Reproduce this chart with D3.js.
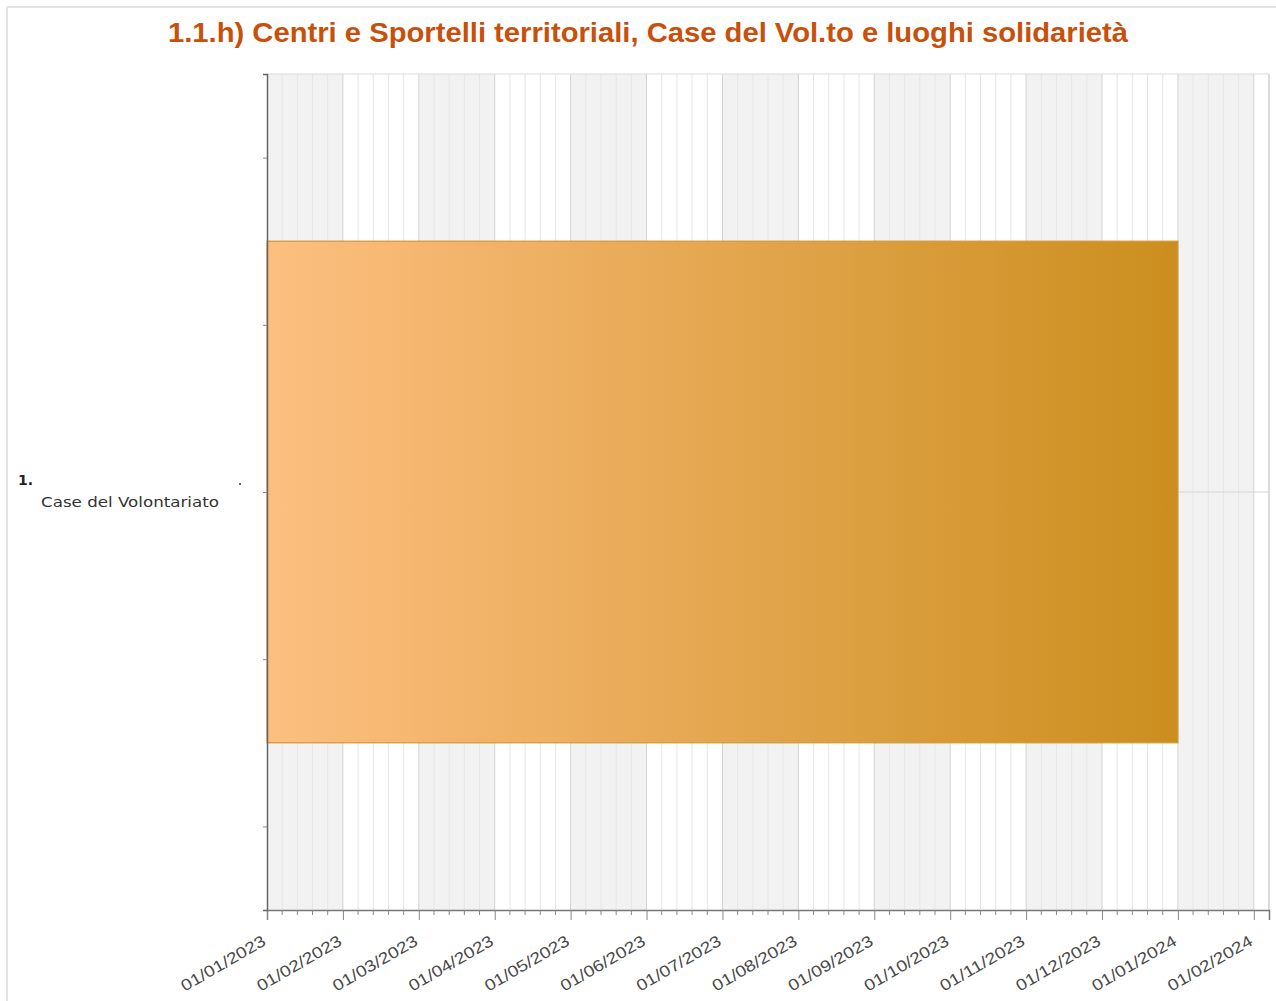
<!DOCTYPE html>
<html><head><meta charset="utf-8">
<script src="https://cdn.jsdelivr.net/npm/d3@7"></script>
<style>body{margin:0;background:#fff}svg{display:block}</style>
</head><body>
<svg id="chart" width="1276" height="1001"></svg>
<script>
const title = "1.1.h) Centri e Sportelli territoriali, Case del Vol.to e luoghi solidarietà";
const monthLabels = ["01/01/2023","01/02/2023","01/03/2023","01/04/2023","01/05/2023","01/06/2023","01/07/2023","01/08/2023","01/09/2023","01/10/2023","01/11/2023","01/12/2023","01/01/2024","01/02/2024"];
const taskNumbers = ["1."];
const taskNames = ["Case del Volontariato"];
const taskStarts = ["01/01/2023"];
const taskEnds = ["01/01/2024"];
const taskRows = [0];
const yTicks = [-1, -0.5, 0, 0.5, 1];

const svg = d3.select("#chart");
const L = 267, R = 1269, T = 74, B = 910;

// outer frame
svg.append("path").attr("d", "M7,1001 V7 H1276").attr("fill","none").attr("stroke","#e4e4e4").attr("stroke-width",2);

svg.append("text").attr("x", 648).attr("y", 42).attr("text-anchor","middle")
  .attr("font-family","'Liberation Sans', Arial, sans-serif").attr("font-weight","bold")
  .attr("font-size", 28).attr("fill","#c8500a")
  .attr("textLength", 960).attr("lengthAdjust","spacingAndGlyphs").text(title);

const x = d3.scaleLinear().domain([0, 13.2]).range([L, R]);
const y = d3.scaleLinear().domain([1.25, -1.25]).range([T, B]);

// alternating month bands
const g = svg.append("g");
d3.range(0, 14, 2).forEach(i => {
  g.append("rect").attr("x", x(i)).attr("y", T).attr("width", x(Math.min(i+1, 13.2)) - x(i))
    .attr("height", B - T).attr("fill", "#f2f2f2");
});
// minor gridlines
const minor = d3.range(0, 66).map(k => k/5).filter(v => v % 1 !== 0);
g.selectAll(".mg").data(minor).join("line").attr("x1", d=>x(d)).attr("x2", d=>x(d))
  .attr("y1", T).attr("y2", B).attr("stroke","#e6e6e6").attr("stroke-width",1);
g.selectAll(".Mg").data(d3.range(1, 14)).join("line").attr("x1", d=>x(d)).attr("x2", d=>x(d))
  .attr("y1", T).attr("y2", B).attr("stroke","#d2d2d2").attr("stroke-width",1);
// top & right border
svg.append("line").attr("x1", L).attr("x2", R).attr("y1", T).attr("y2", T).attr("stroke","#dadada");
svg.append("line").attr("x1", R).attr("x2", R).attr("y1", T).attr("y2", B).attr("stroke","#cfcfcf").attr("stroke-width",1.5);
// horizontal row gridline
svg.selectAll(".hg").data(taskRows).join("line").attr("x1", L).attr("x2", R)
  .attr("y1", d=>y(d)).attr("y2", d=>y(d)).attr("stroke","#d6d6d6");

// bars
const defs = svg.append("defs");
const grad = defs.append("linearGradient").attr("id","barGrad").attr("x1","0%").attr("x2","100%").attr("y1","0").attr("y2","0");
grad.append("stop").attr("offset","0%").attr("stop-color","#fdbf80");
grad.append("stop").attr("offset","100%").attr("stop-color","#cb8e1e");
const idx = s => monthLabels.indexOf(s);
svg.selectAll(".bar").data(taskRows).join("rect")
  .attr("x", (d,i)=>x(idx(taskStarts[i])))
  .attr("width", (d,i)=>x(idx(taskEnds[i])) - x(idx(taskStarts[i])))
  .attr("y", d=>y(d+0.75)).attr("height", d=>y(d-0.75)-y(d+0.75))
  .attr("fill","url(#barGrad)").attr("stroke","#d49633").attr("stroke-width",1.2);

// x axis
const xAxis = d3.axisBottom(x).tickValues(d3.range(0, 14)).tickSize(10).tickFormat(i => monthLabels[i]);
const xa = svg.append("g").attr("transform", `translate(0,${B})`).call(xAxis);
xa.select(".domain").attr("stroke","#777").attr("stroke-width",1.5);
xa.selectAll(".tick line").attr("stroke","#888");
xa.selectAll(".tick text").attr("font-family","'Liberation Sans', Arial, sans-serif").attr("font-size",16)
  .attr("fill","#4a4a4a").attr("text-anchor","end").attr("dx",0).attr("dy",0)
  .attr("textLength",95).attr("lengthAdjust","spacingAndGlyphs")
  .attr("transform","translate(-7,23) rotate(-30)");
svg.append("g").selectAll("line").data(minor).join("line")
  .attr("x1", d=>x(d)).attr("x2", d=>x(d)).attr("y1", B).attr("y2", B+5).attr("stroke","#888");

// y axis
const yAxis = d3.axisLeft(y).tickValues(yTicks).tickSize(4).tickFormat("");
const ya = svg.append("g").attr("transform", `translate(${L},0)`).call(yAxis);
ya.select(".domain").attr("stroke","#666").attr("stroke-width",1.5);
ya.selectAll(".tick line").attr("stroke","#888");

// task labels
taskRows.forEach((r,i) => {
  svg.append("text").attr("x", 18).attr("y", y(r)-7).attr("font-family","'DejaVu Sans', Verdana, sans-serif")
    .attr("font-size",14).attr("font-weight","bold").attr("fill","#222").text(taskNumbers[i]);
  svg.append("text").attr("x", 41).attr("y", y(r)+15).attr("font-family","'DejaVu Sans', Verdana, sans-serif")
    .attr("font-size",14).attr("fill","#333").attr("textLength",178).attr("lengthAdjust","spacingAndGlyphs").text(taskNames[i]);
  svg.append("circle").attr("cx", 240).attr("cy", y(r)-8).attr("r", 1.1).attr("fill","#444");
});
</script>
</body></html>
